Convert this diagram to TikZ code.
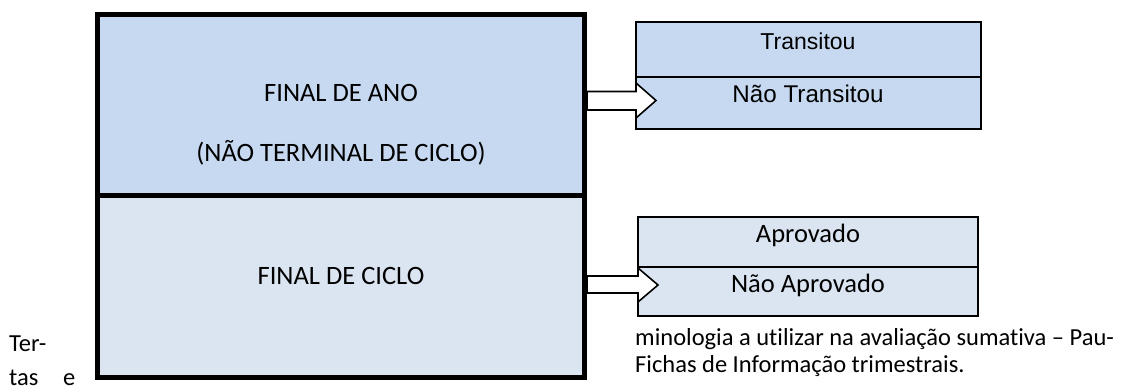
\documentclass[tikz,border=0pt]{standalone}
\usepackage{fontspec}
\setmainfont{Carlito}[Ligatures=NoCommon]
\newfontfamily\arialfont{Liberation Sans}
\definecolor{yearfill}{HTML}{C6D9F1}
\definecolor{cyclefill}{HTML}{DBE5F1}
\begin{document}
\begin{tikzpicture}[x=1pt,y=-1pt,
  bigbox/.style={draw=black,line width=5pt},
  smallbox/.style={draw=black,line width=1.6pt},
  blockarrow/.style={draw=black,fill=white,line width=1.6pt,line join=miter},
  label/.style={inner sep=0pt,anchor=base,font=\fontsize{26.5}{31}\selectfont},
  arlabel/.style={inner sep=0pt,anchor=base},
  body/.style={inner sep=0pt,anchor=base west,font=\fontsize{24.5}{29}\selectfont}]
\useasboundingbox (0,0) rectangle (1146,391);

% large two-part box
\fill[yearfill] (97.5,14.5) rectangle (584.5,195.5);
\fill[cyclefill] (97.5,195.5) rectangle (584.5,377.5);
\draw[bigbox] (97.5,14.5) rectangle (584.5,377.5);
\draw[bigbox] (97.5,195.5) -- (584.5,195.5);

\node[label] (ano)  at (341,101.5) {FINAL DE ANO};
\node[label] (nterm) at (341,161) {(NÃO TERMINAL DE CICLO)};
\node[label] (ciclo) at (341,284) {FINAL DE CICLO};

% result boxes
\fill[yearfill] (636,22) rectangle (981,129);
\draw[smallbox] (636,22) rectangle (981,129);
\draw[smallbox] (636,77) -- (981,77);
\node[arlabel,font=\arialfont\fontsize{23}{27}\selectfont] (tr) at (808,49.3) {Transitou};
\node[arlabel,font=\arialfont\fontsize{24.2}{28}\selectfont] (ntr) at (808,102.3) {Não Transitou};

\fill[cyclefill] (638,217) rectangle (978,316);
\draw[smallbox] (638,217) rectangle (978,316);
\draw[smallbox] (638,267) -- (978,267);
\node[label] (apr) at (808,242) {Aprovado};
\node[label] (napr) at (808,292.7) {Não Aprovado};

% block arrows
\draw[blockarrow] (587,91.5) -- (636,91.5) -- (636,83) -- (656,100.5) -- (636,118) -- (636,110) -- (587,110) -- cycle;
\draw[blockarrow] (587,276) -- (638,276) -- (638,268) -- (658,285) -- (638,302) -- (638,293) -- (587,293) -- cycle;

% surrounding running text
\node[body] (t1) at (9,351) {Ter-};
\node[body] (t2) at (9,385) {\makebox[66pt][s]{tas e}};
\node[body] (b1) at (635,345) {minologia a utilizar na avaliação sumativa – Pau-};
\node[body] (b2) at (635,372) {Fichas de Informação trimestrais.};
\end{tikzpicture}
\end{document}
